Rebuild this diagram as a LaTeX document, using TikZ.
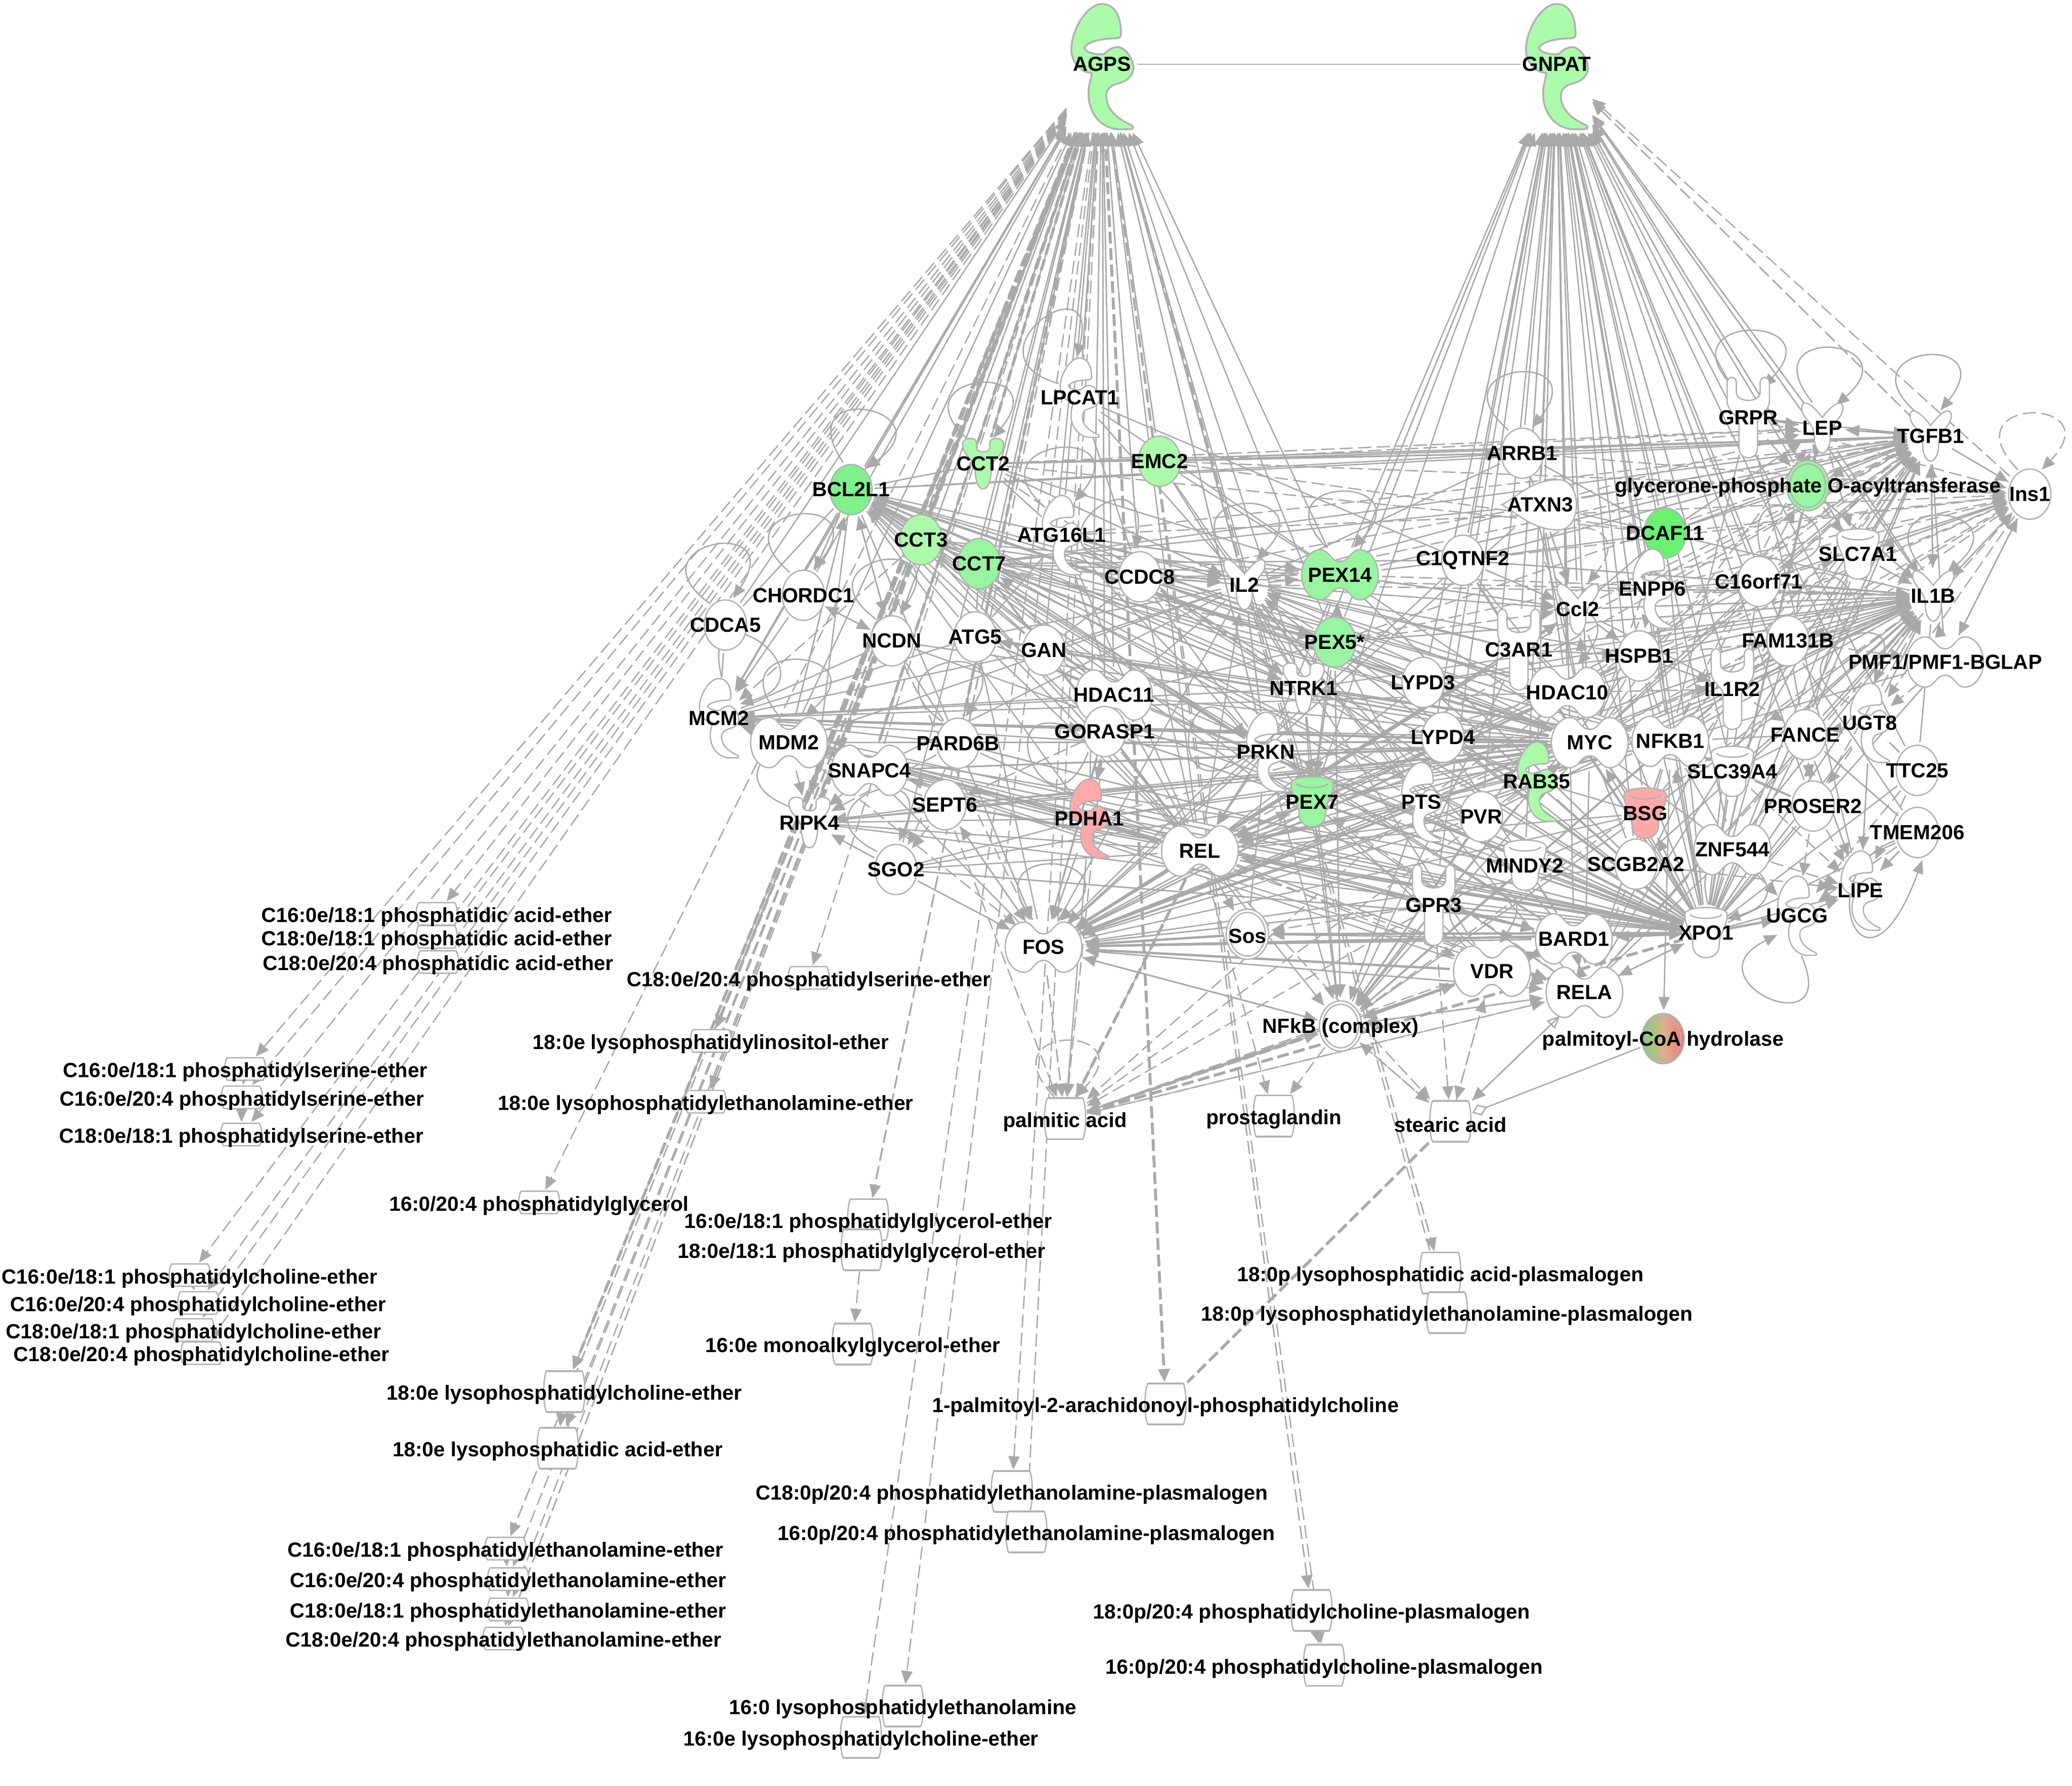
\documentclass[tikz,border=0pt]{standalone}
\usepackage{fontspec}
\setmainfont{Liberation Sans}
\usetikzlibrary{arrows.meta,shapes.geometric}
\definecolor{eg}{HTML}{A9A9A9}
\definecolor{sg}{HTML}{B2B2B2}
\definecolor{cw}{HTML}{FFFFFF}
\definecolor{gA}{HTML}{ABFBAB}
\definecolor{gB}{HTML}{98F5A0}
\definecolor{gC}{HTML}{7FF08C}
\definecolor{gD}{HTML}{69F172}
\definecolor{rA}{HTML}{FFA9A9}
\tikzset{
  >={Triangle[length=10pt,width=8.5pt]},
  es/.style={draw=eg,line width=1pt},
  eb/.style={draw=eg,line width=1.8pt},
  ed/.style={draw=eg,line width=1pt,dash pattern=on 10pt off 4pt},
  et/.style={draw=eg,line width=2.2pt,dash pattern=on 9pt off 3.5pt},
  shp/.style={draw=sg,line width=1pt},
  shb/.style={draw=sg,line width=1.4pt},
  lbl/.style={font=\fontsize{15.5pt}{16pt}\selectfont\bfseries,inner sep=0pt,text=black},
  lbl-ell/.style={},lbl-dog/.style={},lbl-enz/.style={},lbl-cyt/.style={},lbl-kin/.style={},
  lbl-gpc/.style={},lbl-cup/.style={},lbl-pep/.style={},
  lbl-ENZ/.style={yshift=1.8pt},
  lbl-cpx/.style={yshift=-1.5pt},lbl-grad/.style={yshift=-1.5pt},
  lbl-chem/.style={yshift=-2.4pt},lbl-chm/.style={yshift=-2.4pt},
  hit/.style={inner sep=0pt,outer sep=0pt,draw=none,fill=none},
  a-ell/.style={hit,ellipse,minimum width=36pt,minimum height=43pt},
  a-cpx/.style={a-ell},a-grad/.style={a-ell},
  a-cyt/.style={a-ell},a-kin/.style={a-ell},a-cup/.style={a-ell},
  a-dog/.style={hit,ellipse,minimum width=64pt,minimum height=43pt},
  a-pep/.style={a-dog},
  a-enz/.style={hit,ellipse,minimum width=34pt,minimum height=62pt},
  a-gpc/.style={a-enz},
  a-ENZ/.style={hit,rectangle,minimum width=54pt,minimum height=100pt},
  a-chem/.style={hit,rectangle,minimum width=33pt,minimum height=33pt},
  a-chm/.style={hit,rectangle,minimum width=33pt,minimum height=19pt},
}
% ---- shape drawings, all in local coordinates round the centre
\newcommand\shell[1]{\draw[shp,fill=#1] (0,0) ellipse [x radius=16pt,y radius=19pt];}
\newcommand\shcpx[1]{\draw[shp,fill=#1] (0,0) ellipse [x radius=16pt,y radius=19pt];
  \draw[shp] (0,0) ellipse [x radius=13.5pt,y radius=16.5pt];}
\newcommand\shgrad[1]{\path[left color=green!50!gray!70,right color=red!55!white,middle color=orange!50!gray!60,draw=sg,line width=1pt] (0,0) ellipse [x radius=16pt,y radius=19pt];
  \draw[shp] (0,0) ellipse [x radius=13.5pt,y radius=16.5pt];}
\newcommand\shdog[1]{\draw[shp,fill=#1] (-29,0) .. controls (-29,-11) and (-22,-19) .. (-15,-19)
  .. controls (-8,-19) and (-7,-10) .. (0,-10) .. controls (7,-10) and (8,-19) .. (15,-19)
  .. controls (22,-19) and (29,-11) .. (29,0) .. controls (29,11) and (22,19) .. (15,19)
  .. controls (8,19) and (7,10) .. (0,10) .. controls (-7,10) and (-8,19) .. (-15,19)
  .. controls (-22,19) and (-29,11) .. (-29,0) -- cycle;}
\newcommand\enzpath{(0,-30) .. controls (6,-30) and (9,-24) .. (9,-16.6) .. controls (9.5,-14) and (8,-13.5) .. (6,-13.5)
  .. controls (0,-13.5) and (-7,-12) .. (-8.5,-9) .. controls (-8,-6.5) and (-2,-5.5) .. (1,-6)
  .. controls (3,-8) and (5,-9.5) .. (8,-9.3) .. controls (12,-8.5) and (15,-3) .. (15,1)
  .. controls (15,4) and (12,7) .. (8,8) .. controls (4,9) and (2,11) .. (2,14)
  .. controls (2,19) and (5,24) .. (14,28) .. controls (15.5,29) and (15,30) .. (13,30) -- (7,30)
  .. controls (-1,29) and (-6.5,22) .. (-6.5,13) .. controls (-6.5,8) and (-5,6) .. (-5,3)
  .. controls (-10,3) and (-14.7,-2) .. (-14.7,-8) .. controls (-14.7,-18) and (-7,-30) .. (0,-30) -- cycle}
\newcommand\shenz[1]{\draw[shp,fill=#1] \enzpath;}
\newcommand\shENZ[1]{\begin{scope}[scale=1.58]\draw[shb,fill=#1] \enzpath;\end{scope}}
\newcommand\shcyt[1]{\draw[shp,fill=#1] (0,-8) .. controls (3,-12) and (9,-19) .. (13,-19)
  .. controls (16,-19) and (16,-15) .. (15,-12) .. controls (13,-6) and (6,-3) .. (6,7)
  .. controls (6,14) and (3,19) .. (0,19) .. controls (-3,19) and (-6,14) .. (-6,7)
  .. controls (-6,-3) and (-13,-6) .. (-15,-12) .. controls (-16,-15) and (-16,-19) .. (-13,-19)
  .. controls (-9,-19) and (-3,-12) .. (0,-8) -- cycle;}
\newcommand\shkin[1]{\draw[shp,fill=#1] (-5,-16) -- (-5,-12) .. controls (-5,-8) and (5,-8) .. (5,-12) -- (5,-16)
  .. controls (5,-20.5) and (15.5,-20.5) .. (15.5,-15) .. controls (15.5,-6) and (8,-5) .. (6.5,2)
  .. controls (6,9) and (5,19) .. (0,19) .. controls (-5,19) and (-6,9) .. (-6.5,2)
  .. controls (-8,-5) and (-15.5,-6) .. (-15.5,-15) .. controls (-15.5,-20.5) and (-5,-20.5) .. (-5,-16) -- cycle;}
\newcommand\shgpc[1]{\draw[shp,fill=#1] (-16,-26) .. controls (-16,-32) and (-9,-32) .. (-9,-26) -- (-9,-19)
  .. controls (-9,-11) and (9,-11) .. (9,-19) -- (9,-26) .. controls (9,-32) and (16,-32) .. (16,-26) -- (16,-13)
  .. controls (16,-4) and (8,-3) .. (7,4) -- (7,23) .. controls (7,33) and (-7,33) .. (-7,23) -- (-7,4)
  .. controls (-8,-3) and (-16,-4) .. (-16,-13) -- cycle;}
\newcommand\shcup[1]{\draw[shp,fill=#1] (-16,-14) .. controls (-16,-21) and (16,-21) .. (16,-14)
  .. controls (16,-4) and (10,0) .. (10,9) .. controls (10,22) and (-10,22) .. (-10,9)
  .. controls (-10,0) and (-16,-4) .. (-16,-14) -- cycle;
  \draw[shp] (-12,-14) .. controls (-9,-10) and (9,-10) .. (12,-14);}
\newcommand\shpep[1]{\draw[shp,fill=#1] (-29,0) .. controls (-16,-7) and (-6,-19) .. (14,-19)
  .. controls (32,-19) and (32,19) .. (14,19) .. controls (-6,19) and (-16,7) .. (-29,0) -- cycle;}
\newcommand\shchem[1]{\draw[shp,fill=#1] (-13.5,-15.5) -- (13.5,-15.5) .. controls (15,-12) and (15.5,-6) .. (15.5,0)
  .. controls (15.5,6) and (15,12) .. (13.5,15.5) -- (-13.5,15.5) .. controls (-15,12) and (-15.5,6) .. (-15.5,0)
  .. controls (-15.5,-6) and (-15,-12) .. (-13.5,-15.5) -- cycle;
  \draw[shb] (-13,-15.5) -- (13,-15.5) (-13,15.5) -- (13,15.5);}
\newcommand\shchm[1]{\draw[shp,fill=#1] (-13.5,-8.5) -- (13.5,-8.5) .. controls (15,-6.5) and (15.5,-3) .. (15.5,0)
  .. controls (15.5,3) and (15,6.5) .. (13.5,8.5) -- (-13.5,8.5) .. controls (-15,6.5) and (-15.5,3) .. (-15.5,0)
  .. controls (-15.5,-3) and (-15,-6.5) .. (-13.5,-8.5) -- cycle;}
% ---- passes over the node list
\newcommand\GNanchor[6]{\node[a-#4] (#1) at (#2,#3) {};}
\newcommand\GNshape[6]{\begin{scope}[shift={(#2,#3)}]\csname sh#4\endcsname{#5}\end{scope}}
\newcommand\GNlabel[6]{\node[lbl,lbl-#4] (#1-t) at (#2,#3) {#6};}
\newcommand\allgenes{%
\GN{agps}{834}{50.4}{ENZ}{gA}{AGPS}
\GN{gnpat}{1178}{50.4}{ENZ}{gA}{GNPAT}
\GN{lpcat}{817}{301}{enz}{cw}{LPCAT1}
\GN{cct2}{744}{351}{kin}{gA}{CCT2}
\GN{emc}{877.5}{349}{ell}{gA}{EMC2}
\GN{bcl}{644}{370.5}{ell}{gC}{BCL2L1}
\GN{cct3}{697}{408.5}{ell}{gA}{CCT3}
\GN{cct7}{741}{426.5}{ell}{gB}{CCT7}
\GN{atg16}{803.5}{405}{enz}{cw}{ATG16L1}
\GN{ccdc}{862.5}{436.5}{ell}{cw}{CCDC8}
\GN{il2}{941.7}{442.5}{cyt}{cw}{IL2}
\GN{pex14}{1014}{435}{dog}{gB}{PEX14}
\GN{pex5}{1010}{486}{ell}{gB}{PEX5*}
\GN{chord}{608}{450.5}{ell}{cw}{CHORDC1}
\GN{cdca}{549}{473}{ell}{cw}{CDCA5}
\GN{ncdn}{675}{485}{ell}{cw}{NCDN}
\GN{atg5}{738}{482}{ell}{cw}{ATG5}
\GN{gan}{790}{492}{ell}{cw}{GAN}
\GN{hd11}{843}{526}{dog}{cw}{HDAC11}
\GN{ntrk}{986.5}{521}{kin}{cw}{NTRK1}
\GN{mcm}{544}{543.5}{enz}{cw}{MCM2}
\GN{mdm}{597}{562}{dog}{cw}{MDM2}
\GN{pard}{725}{562.5}{ell}{cw}{PARD6B}
\GN{gora}{836}{553.6}{ell}{cw}{GORASP1}
\GN{snap}{658}{583}{dog}{cw}{SNAPC4}
\GN{sept}{715}{609}{ell}{cw}{SEPT6}
\GN{ripk}{612.6}{622.6}{kin}{cw}{RIPK4}
\GN{pdha}{824.4}{619.5}{enz}{rA}{PDHA1}
\GN{prkn}{958}{569}{enz}{cw}{PRKN}
\GN{pex7}{993}{607}{cup}{gB}{PEX7}
\GN{rel}{908}{644}{dog}{cw}{REL}
\GN{sgo}{678}{658}{ell}{cw}{SGO2}
\GN{c1q}{1107}{424}{ell}{cw}{C1QTNF2}
\GN{lypd3}{1077}{516.4}{ell}{cw}{LYPD3}
\GN{c3ar}{1149.4}{491.6}{gpc}{cw}{C3AR1}
\GN{ccl}{1194}{461}{cyt}{cw}{Ccl2}
\GN{arrb}{1152}{343}{ell}{cw}{ARRB1}
\GN{atxn}{1165.5}{382}{pep}{cw}{ATXN3}
\GN{dcaf}{1260}{403.4}{ell}{gD}{DCAF11}
\GN{gpat}{1368}{367.5}{cpx}{gB}{glycerone-phosphate O-acyltransferase}
\GN{enpp}{1250.5}{445.5}{enz}{cw}{ENPP6}
\GN{c16}{1331}{440}{ell}{cw}{C16orf71}
\GN{slc7}{1406}{419.5}{cup}{cw}{SLC7A1}
\GN{grpr}{1323}{316}{gpc}{cw}{GRPR}
\GN{lep}{1379}{324}{cyt}{cw}{LEP}
\GN{tgfb}{1461}{330}{cyt}{cw}{TGFB1}
\GN{ins}{1536}{374}{ell}{cw}{Ins1}
\GN{il1b}{1463}{451}{cyt}{cw}{IL1B}
\GN{fam}{1353}{485}{ell}{cw}{FAM131B}
\GN{hspb}{1240.5}{496.4}{ell}{cw}{HSPB1}
\GN{hd10}{1186}{524}{dog}{cw}{HDAC10}
\GN{il1r}{1311}{521.5}{gpc}{cw}{IL1R2}
\GN{pmf}{1472}{501}{dog}{cw}{PMF1/PMF1-BGLAP}
\GN{lypd4}{1092}{558}{ell}{cw}{LYPD4}
\GN{myc}{1203}{562}{dog}{cw}{MYC}
\GN{nfkb}{1264}{561}{dog}{cw}{NFKB1}
\GN{fance}{1366}{556}{ell}{cw}{FANCE}
\GN{ugt8}{1415}{547}{enz}{cw}{UGT8}
\GN{slc39}{1311}{584}{cup}{cw}{SLC39A4}
\GN{ttc}{1451}{583}{ell}{cw}{TTC25}
\GN{rab}{1163}{591.5}{enz}{gA}{RAB35}
\GN{bsg}{1245}{615.6}{cup}{rA}{BSG}
\GN{proser}{1372}{610}{ell}{cw}{PROSER2}
\GN{pts}{1075.5}{607}{enz}{cw}{PTS}
\GN{pvr}{1121}{618}{ell}{cw}{PVR}
\GN{tmem}{1451}{630}{ell}{cw}{TMEM206}
\GN{znf}{1311}{643}{dog}{cw}{ZNF544}
\GN{scgb}{1238}{654}{ell}{cw}{SCGB2A2}
\GN{mindy}{1154}{655}{cup}{cw}{MINDY2}
\GN{lipe}{1408}{674}{enz}{cw}{LIPE}
\GN{gpr3}{1085}{685}{gpc}{cw}{GPR3}
\GN{ugcg}{1360}{693}{enz}{cw}{UGCG}
\GN{xpo}{1291}{706}{cup}{cw}{XPO1}
\GN{bard}{1191}{710.5}{dog}{cw}{BARD1}
\GN{vdr}{1129}{735}{dog}{cw}{VDR}
\GN{rela}{1199}{751}{dog}{cw}{RELA}
\GN{fos}{789.7}{716.8}{dog}{cw}{FOS}
\GN{sos}{944}{707}{cpx}{cw}{Sos}
\GN{nfk}{1014.5}{776.5}{cpx}{cw}{NFkB (complex)}
\GN{pch}{1258.5}{786}{grad}{cw}{palmitoyl-CoA hydrolase}
\GN{pal}{806}{846.6}{chem}{cw}{palmitic acid}
\GN{pro}{964}{844.5}{chem}{cw}{prostaglandin}
\GN{ste}{1097.6}{848.6}{chem}{cw}{stearic acid}
\GN{pa1}{330.5}{691.6}{chm}{cw}{C16:0e/18:1 phosphatidic acid-ether}
\GN{pa2}{330.5}{709}{chm}{cw}{C18:0e/18:1 phosphatidic acid-ether}
\GN{pa3}{331.5}{728}{chm}{cw}{C18:0e/20:4 phosphatidic acid-ether}
\GN{ps4}{612}{740}{chm}{cw}{C18:0e/20:4 phosphatidylserine-ether}
\GN{lpi}{538}{787.7}{chm}{cw}{18:0e lysophosphatidylinositol-ether}
\GN{lpe}{534}{833.7}{chm}{cw}{18:0e lysophosphatidylethanolamine-ether}
\GN{ps1}{185.5}{809}{chm}{cw}{C16:0e/18:1 phosphatidylserine-ether}
\GN{ps2}{183}{830.5}{chm}{cw}{C16:0e/20:4 phosphatidylserine-ether}
\GN{ps3}{182.6}{858.6}{chm}{cw}{C18:0e/18:1 phosphatidylserine-ether}
\GN{pg0}{408}{910}{chm}{cw}{16:0/20:4 phosphatidylglycerol}
\GN{pc1}{143.5}{965}{chm}{cw}{C16:0e/18:1 phosphatidylcholine-ether}
\GN{pc2}{150}{986}{chm}{cw}{C16:0e/20:4 phosphatidylcholine-ether}
\GN{pc3}{146.5}{1006.5}{chm}{cw}{C18:0e/18:1 phosphatidylcholine-ether}
\GN{pc4}{152.5}{1024}{chm}{cw}{C18:0e/20:4 phosphatidylcholine-ether}
\GN{lpc}{427}{1053}{chem}{cw}{18:0e lysophosphatidylcholine-ether}
\GN{lpa}{422}{1096}{chem}{cw}{18:0e lysophosphatidic acid-ether}
\GN{pe1}{382.5}{1172}{chm}{cw}{C16:0e/18:1 phosphatidylethanolamine-ether}
\GN{pe2}{384.5}{1195}{chm}{cw}{C16:0e/20:4 phosphatidylethanolamine-ether}
\GN{pe3}{384.5}{1218}{chm}{cw}{C18:0e/18:1 phosphatidylethanolamine-ether}
\GN{pe4}{381}{1240}{chm}{cw}{C18:0e/20:4 phosphatidylethanolamine-ether}
\GN{pg1}{657}{923}{chem}{cw}{16:0e/18:1 phosphatidylglycerol-ether}
\GN{pg2}{652}{945.7}{chem}{cw}{18:0e/18:1 phosphatidylglycerol-ether}
\GN{mag}{645.3}{1017}{chem}{cw}{16:0e monoalkylglycerol-ether}
\GN{pap}{882}{1062.5}{chem}{cw}{1-palmitoyl-2-arachidonoyl-phosphatidylcholine}
\GN{cp1}{765.7}{1128.6}{chem}{cw}{C18:0p/20:4 phosphatidylethanolamine-plasmalogen}
\GN{cp2}{776.7}{1159.2}{chem}{cw}{16:0p/20:4 phosphatidylethanolamine-plasmalogen}
\GN{plpa}{1090}{963.3}{chem}{cw}{18:0p lysophosphatidic acid-plasmalogen}
\GN{plpe}{1095}{993.4}{chem}{cw}{18:0p lysophosphatidylethanolamine-plasmalogen}
\GN{pcp1}{992.5}{1218.6}{chem}{cw}{18:0p/20:4 phosphatidylcholine-plasmalogen}
\GN{pcp2}{1002}{1260.3}{chem}{cw}{16:0p/20:4 phosphatidylcholine-plasmalogen}
\GN{lpe16}{683.2}{1291}{chem}{cw}{16:0 lysophosphatidylethanolamine}
\GN{lpc16}{651.5}{1314.7}{chem}{cw}{16:0e lysophosphatidylcholine-ether}
}
\newcommand\FT[3]{\foreach \tgt in {#3}{\draw[#1] (#2) -- (\tgt);}}
\begin{document}
\begin{tikzpicture}[x=1pt,y=-1pt]
\useasboundingbox (0,0) rectangle (1568,1351.4);
\fill[white] (0,0) rectangle (1568,1351.4);
\let\GN\GNanchor \allgenes
% ---------- AGPS and GNPAT
\draw[es] ([yshift=1.8pt]agps.east) -- ([yshift=1.8pt]gnpat.west);
\FT{ed,->}{agps}{pa1,pa2,pa3,ps1,ps2,ps3,pc1,pc2,pc3,pc4,ps4,pg0,pg1,pg2,lpe16,lpc16,cp1,cp2,plpa,plpe,pcp1,pcp2,lpe,lpa,pe1,pe2,pe3,pe4}
\FT{et,->}{agps}{lpi,lpc,pap}
\FT{ed,->}{agps}{lpi,lpc,pe1,pe4,lpe,plpa,pcp1}
\FT{es,<-}{agps}{bcl,cct2,cct3,cct7,atg16,lpcat,emc,ccdc,il2,pex14,pex5,ntrk,chord,cdca,ncdn,atg5,gan,hd11,mcm,mdm,snap,pard,gora,ripk,sept,pdha,prkn,pex7,rel,sgo,mcm,snap}
\FT{ed,<-}{agps}{bcl,cct3,cct7,ncdn,hd11,gora,prkn,il2,emc,lpcat,atg5,ccdc}
\FT{et}{agps}{ripk,snap,pard,cct2}
\FT{es,<-}{gnpat}{arrb,atxn,c1q,lypd3,lypd4,c3ar,ccl,hd10,myc,rab,pts,pvr,mindy,hspb,nfkb,enpp,dcaf,bsg,scgb,c16,il1r,fam,grpr,lep,slc7,gpat,slc39,znf,fance,ugt8,ttc,pex14,pex5,ntrk,pex7,xpo,bard,gpr3,il1b,proser}
\FT{ed,<-}{gnpat}{c1q,lypd3,c3ar,hd10,myc,hspb,enpp,il1r,fam,fance,ntrk,grpr,lep}
\FT{ed,<-}{gnpat}{tgfb,ins,il1b,tgfb,slc7}
\FT{ed,->}{pg2}{mag}
\draw[ed,->] (lpc) -- (lpa);
\draw[ed,->] (pcp1) -- (pcp2);
\draw[ed,->] (pe1) -- (pe2);
\draw[ed,->] (pe2) -- (pe3);
\draw[ed,->] (pe3) -- (pe4);
\draw[ed,->] (ps1) -- (ps2);
\draw[ed,->] (ps2) -- (ps3);
\draw[ed,->] (pc1) -- (pc2);
\draw[et] (ste) -- (pap);
% ---------- hubs
\FT{es}{xpo}{pts,gpr3,mindy,pvr,lypd4,lypd3,prkn,pex7,ntrk,gora,hd11,cct7,sept,snap,mdm,gan,atg5,pdha,sgo,rab,scgb,hd10,c3ar,pex5,pex14,c1q,ccdc,ripk,pard}
\FT{es,->}{xpo}{rel,myc,nfkb,bsg,il2,bcl,mcm}
\FT{eb,->}{xpo}{fos,rel,sos,bard}
\FT{es}{myc}{cct3,cct7,snap,pex7,prkn,ntrk,pex5,pex14,atg5,gan,ncdn,sept,ripk,pdha,ccdc,hd11}
\FT{es,->}{myc}{bcl,il2,mcm,mdm,rel,nfk,rela}
\FT{eb,->}{myc}{fos,mcm,bcl}
\FT{ed,->}{myc}{il1b,tgfb,ins,nfk,ccl,dcaf,lep}
\FT{es}{nfkb}{atg5,gan,sept,cct7,snap,ntrk,prkn,pts,pdha,sgo,ripk}
\FT{es,->}{nfkb}{bcl,il2,fos,rel,mcm,mdm,rela,nfk,pch}
\FT{ed,->}{nfkb}{il1b,tgfb,ins,bcl,fos,lep,gpat}
\FT{es}{rel}{sept,ripk,pdha,xpo,cct7,atg5}
\FT{es,->}{rel}{bcl,il2,mdm,snap,mcm,nfk,bard,rela,sos}
\FT{eb,->}{rel}{fos,fos}
\FT{et,->}{rel}{fos}
\FT{ed,->}{rel}{il1b,pro,pal,ste,tgfb,sos,pex7,vdr,rela}
\FT{eb,->}{vdr}{fos,nfk}
\FT{es,->}{vdr}{rela,bard}
\FT{es}{vdr}{mcm,pex7,il2}
\FT{ed,->}{vdr}{pal,nfk,ste,rela}
\FT{eb,->}{sos}{fos}
\FT{ed,->}{gpr3}{fos,sos,ste,nfk,pal}
\FT{es,->}{gpr3}{fos,nfk,bard}
\FT{es}{gpr3}{rel,xpo,bcl}
\FT{es,->}{bard}{fos,nfk,rela,vdr}
\FT{es}{bard}{mcm,bcl,il2,sos,mdm}
\FT{ed,->}{bard}{xpo,rela,fos}
\FT{es,->}{rela}{fos,nfk,bard}
\FT{es}{rela}{il2,bcl,mcm,xpo,il1b,tgfb}
\FT{ed,->}{rela}{ins,il1b,xpo,ste,pal,pex7}
\draw[ed,-{Triangle[length=10pt,width=8.5pt,fill=white]}] (ste) -- (rela);
\draw[ed,<-] (ste) -- (rela);
\FT{es}{fos}{sos,bcl}
\FT{ed,->}{fos}{pal,pal,nfk,rela,il1b,sept}
\draw[es,->] (fos) -- (nfk);
\draw[es,<-] (fos) -- (nfk);
\FT{ed,->}{nfk}{pal,pal,pro,ste,rela,rela,fos,vdr,il1b}
\FT{ed,->}{ste}{nfk,nfk,vdr}
\FT{ed,->}{pal}{rela,vdr,nfk,bard,myc}
\FT{et}{pal}{rel,nfk,xpo}
\FT{es,->}{pex7}{nfk,rel,fos}
\FT{es,->}{pts}{nfk,rel,fos}
\FT{es}{pts}{bcl,il2,xpo}
\FT{ed,->}{pts}{il1b,tgfb,nfk,fos,pal}
\FT{es,->}{pex5}{nfk,pex7,pex14}
\FT{es}{pex5}{il1b,pts}
\FT{es,->}{ntrk}{nfk,fos,rel,pex7}
\FT{es}{ntrk}{bcl,cct7,mcm,il1b,myc}
\FT{es,->}{prkn}{bcl,cct7,rel,nfk}
\FT{es}{prkn}{pex7,mcm,il2,bard,sos}
\FT{es,->}{mindy}{nfk,xpo}
\FT{es}{mindy}{bard,mdm}
\FT{es,->}{pdha}{fos,pal}
\FT{es}{pdha}{rel,mcm,bcl,ripk,sgo}
\FT{ed,->}{pdha}{fos,rela,il1b}
\FT{es,->}{sept}{fos,ripk}
\FT{es}{sept}{rel,mdm,xpo}
\FT{ed,->}{sept}{fos,sgo,pal}
\FT{es,->}{snap}{ripk,mcm}
\FT{es}{snap}{rel,fos,xpo,il2}
\FT{es,->}{mdm}{mcm,bcl}
\FT{es}{mdm}{xpo,rel,myc,il2}
\FT{ed,->}{mdm}{bcl,ripk,fos}
\FT{es}{pard}{mcm,sept,rel,xpo,ncdn}
\FT{ed,->}{pard}{ripk,fos,sgo}
\FT{es,->}{sgo}{ripk}
\FT{es}{sgo}{fos,xpo,rel}
\FT{ed,->}{sgo}{ripk,fos}
\FT{es}{gora}{rel,fos,bcl,pdha,prkn,xpo}
\FT{ed,->}{gora}{sept,fos,pal}
\FT{es,->}{hd11}{mcm,bcl}
\FT{es}{hd11}{cct3,atg5,gan,rel,fos,il2,pex5}
\FT{ed,->}{hd11}{pdha,fos}
\FT{es,->}{cct7}{bcl,il2}
\FT{es}{cct7}{cct3,ntrk,atg5,gan,prkn,rel,pex14,hd11,c1q}
\FT{ed,->}{cct7}{il2,ntrk,pex5,bcl}
\FT{es,->}{cct3}{bcl,il2}
\FT{es}{cct3}{ntrk,gan,prkn,pex14,pex5,hd11,rel}
\FT{ed,->}{cct3}{bcl,mcm,pex5}
\FT{es,->}{atg5}{bcl}
\FT{es}{atg5}{cct7,mcm,fos,atg16,il2,hd11}
\FT{es,->}{gan}{atg5}
\FT{es}{gan}{bcl,mcm,rel,il2,hd11}
\FT{es,->}{ncdn}{chord}
\FT{es}{ncdn}{mcm,bcl,xpo}
\FT{ed,->}{ncdn}{bcl,fos}
\FT{es,->}{chord}{ncdn,mcm}
\FT{es}{chord}{bcl}
\FT{es}{cdca}{mcm,bcl}
\FT{ed,->}{bcl}{ncdn,chord,mcm}
\FT{es,->}{bcl}{mcm}
\FT{es}{bcl}{ripk}
\FT{es}{cct2}{il2,pex14,bcl,tgfb,atg16,arrb}
\FT{ed,->}{cct2}{arrb,lep,tgfb,il2,ntrk,dcaf}
\FT{es}{emc}{tgfb,il2,ntrk,pex14,arrb}
\FT{ed,->}{emc}{arrb,lep,tgfb,dcaf,gpat}
\FT{es}{lpcat}{c1q,pex14,ccdc,il2}
\FT{es,->}{atg16}{il2}
\FT{es}{atg16}{pex14,ccdc,hd11,bcl,c3ar,ccl,ntrk,prkn,rel,pex5,myc}
\FT{ed,->}{atg16}{il2,tgfb,pex14,ins}
\FT{es,->}{ccdc}{il2}
\FT{es}{ccdc}{pex14,gan,ntrk,prkn,pex5,rel,hd10,xpo}
\FT{ed,->}{ccdc}{ccl,tgfb,il1b,pex5}
\FT{es}{il2}{pex14,ntrk,pex5,prkn,xpo,fos}
\FT{ed,->}{il2}{il1b,ccl,tgfb,pex14}
\FT{es}{pex14}{ntrk,pex5,prkn,pex7,xpo,c1q,tgfb}
\FT{ed,->}{pex14}{tgfb,il1b,ins,ccl}
\FT{ed,->}{pex5}{ccl,il1b,ins,tgfb,pex7,nfk}
\FT{es}{c1q}{ccl,tgfb,il1b,xpo,c3ar,hd10,fos,dcaf}
\FT{ed,->}{c1q}{tgfb,il1b,ccl}
\FT{es}{arrb}{tgfb,atxn,bcl,il2,myc,dcaf}
\FT{ed,->}{arrb}{tgfb,lep,ins,ccl}
\FT{es}{atxn}{dcaf,tgfb,il2,fos,hd10,cct7,ccl,myc}
\FT{ed,->}{atxn}{lep,tgfb}
\FT{es,->}{c3ar}{hspb,ccl}
\FT{es}{c3ar}{hd10,il2,fos,rel,nfk,il1b}
\FT{ed,->}{c3ar}{il1b,tgfb,ccl}
\FT{es}{ccl}{il1b,c3ar,hspb,fos,rel,myc,xpo}
\FT{ed,->}{ccl}{tgfb,il1b,hspb}
\FT{es}{lypd3}{hspb,xpo,il1b,pex5,bcl,rel}
\FT{es}{lypd4}{xpo,myc,rel,rab,bard}
\FT{es,->}{hd10}{il1b}
\FT{es}{hd10}{myc,hspb,rel,fos,xpo,il2,bcl,nfk,mcm}
\FT{ed,->}{hd10}{il1b,tgfb,ins,il1r}
\FT{es,->}{hspb}{il1b,il1r}
\FT{es}{hspb}{myc,nfkb,xpo,il2,fos,rel,nfk}
\FT{ed,->}{hspb}{ins,tgfb,il1b,il1r,fam}
\FT{es,->}{il1r}{il1b}
\FT{es}{il1r}{myc,nfkb,nfk,fos,xpo,rela,ccl}
\FT{ed,->}{il1r}{il1b,tgfb,fance}
\FT{es}{enpp}{il1b,nfkb,myc,xpo,c16,dcaf}
\FT{ed,->}{enpp}{tgfb,il1b,ins,hspb}
\FT{es}{dcaf}{tgfb,il1b,xpo,lep,gpat,ccl}
\FT{ed,->}{dcaf}{tgfb,ins,lep}
\FT{es}{c16}{il1b,ins,myc,xpo,fos,tgfb}
\FT{ed,->}{c16}{ins,il1b,tgfb,slc7}
\FT{es}{fam}{il1b,il1r,nfkb,xpo,fance,tgfb}
\FT{ed,->}{fam}{il1b,ins,tgfb,pmf}
\FT{es}{slc7}{il1b,ins,xpo,tgfb,fance}
\FT{ed,->}{slc7}{tgfb,ins,il1b}
\FT{ed,->}{gpat}{tgfb,il1b,ins,lep,slc7}
\FT{es}{gpat}{tgfb,ins,xpo,il1b}
\FT{es}{grpr}{lep,tgfb,gpat,nfkb,lipe}
\FT{ed,->}{grpr}{lep,gpat,tgfb,ins}
\FT{ed,->}{lep}{tgfb,tgfb,il1b,gpat,slc7}
\FT{es,<-}{lep}{tgfb,grpr}
\FT{es}{lep}{gpat,xpo}
\FT{ed,->}{tgfb}{lep,lep,ins,il1b,gpat}
\FT{es}{tgfb}{ins,il1b,xpo,myc,cct7,bcl}
\FT{ed,->}{il1b}{tgfb,tgfb,ins}
\FT{es,->}{il1b}{tgfb,ins}
\FT{es}{il1b}{myc,nfkb,lep,rel,fos}
\FT{ed,->}{ins}{il1b,slc7,pmf,ugt8}
\FT{es}{pmf}{il1b,ins,tgfb,xpo,nfkb}
\FT{ed,->}{pmf}{ugt8,il1b,ins}
\FT{es}{fance}{il1b,nfkb,tmem,lipe,xpo,tgfb,slc39}
\FT{ed,->}{fance}{il1b,tgfb,lipe,proser}
\FT{es}{ugt8}{ttc,lipe,il1b,xpo}
\FT{ed,->}{ugt8}{lipe,il1b,proser,fance}
\FT{es}{ttc}{ugt8,xpo,il1b}
\FT{ed,->}{ttc}{lipe,ugcg}
\FT{es}{tmem}{fam,lipe,xpo,fance}
\FT{ed,->}{tmem}{ugcg,lipe}
\FT{ed,->}{proser}{lipe,ugcg,fance,il1b}
\FT{es}{proser}{xpo,nfkb,slc39}
\FT{es}{slc39}{nfkb,il1b,xpo,myc,tgfb}
\FT{ed,->}{slc39}{il1b,lipe}
\FT{es}{znf}{xpo,nfkb,il1b,myc,rela}
\FT{ed,->}{znf}{lipe,il1b,ugcg}
\FT{es}{bsg}{nfkb,myc,xpo,il1b,rel,fos,nfk,mindy,rab}
\FT{ed,->}{bsg}{il1b,tgfb,rela}
\FT{es}{scgb}{xpo,myc,bsg,nfkb,il1b,fos}
\FT{ed,->}{scgb}{il1b,rela,lipe}
\FT{es}{rab}{myc,xpo,il1b,bcl,fos,rel,nfk}
\FT{ed,->}{rab}{il1b,tgfb}
\FT{es}{pvr}{xpo,il1b,myc,nfk,rel,fos}
\FT{ed,->}{pvr}{il1b,nfk}
\FT{es}{xpo}{rela,il1b,tgfb}
\FT{es,->}{xpo}{lipe}
\FT{eb,->}{xpo}{ugcg}
\FT{ed,->}{xpo}{rela,lipe,ugcg,il1b,tgfb}
\FT{ed,->}{ugcg}{lipe}
\draw[es,-{Diamond[length=12pt,width=9pt,fill=white]}] (pch) -- (ste);
% ---------- self loops
\foreach \n/\ang in {bcl/80,chord/95,cdca/100,ncdn/100,cct2/95,atg16/95,ccdc/125,il2/90,mdm/85,ripk/115,sgo/110,gora/205,prkn/170,arrb/95,tgfb/95,lep/85,il1b/85,grpr/90,fos/85,xpo/60,ugt8/110,fam/45,vdr/100,ugcg/250,mcm/60,pex14/90,pard/100,c16/60,hd10/95,lpcat/120}{
  \pgfmathsetmacro\aa{\ang+26}\pgfmathsetmacro\bb{\ang-26}
  \pgfmathsetmacro\ca{\ang+44}\pgfmathsetmacro\cb{\ang-44}
  \draw[es,->] (\n.\aa) .. controls +(\ca:78pt) and +(\cb:78pt) .. (\n.\bb);}
\foreach \n/\ang in {ins/90,ccl/95,pal/90}{
  \pgfmathsetmacro\aa{\ang+26}\pgfmathsetmacro\bb{\ang-26}
  \pgfmathsetmacro\ca{\ang+44}\pgfmathsetmacro\cb{\ang-44}
  \draw[ed,->] (\n.\aa) .. controls +(\ca:78pt) and +(\cb:78pt) .. (\n.\bb);}
\draw[es,->] (tmem.200) .. controls +(200:70pt) and +(250:130pt) .. (tmem.280);
% ---------- shapes and labels
\let\GN\GNshape \allgenes
\let\GN\GNlabel \allgenes
\end{tikzpicture}
\end{document}
